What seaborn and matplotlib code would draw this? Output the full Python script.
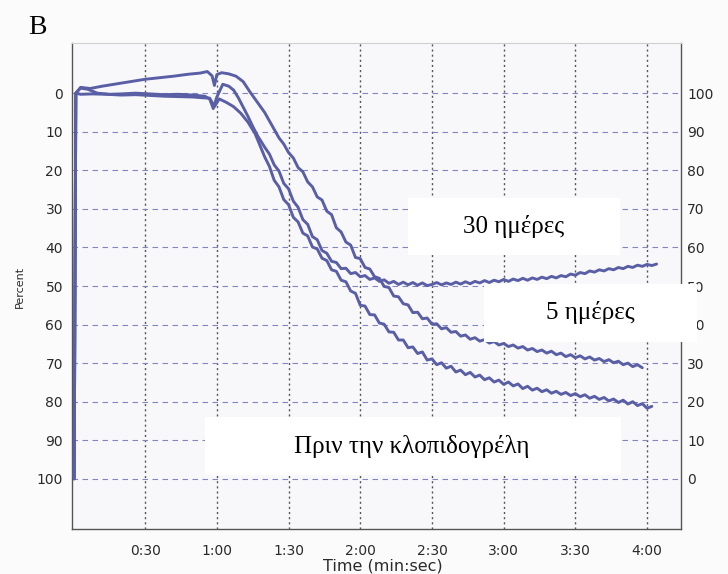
import matplotlib
matplotlib.use("Agg")
import matplotlib.pyplot as plt
import seaborn as sns
import pandas as pd
from matplotlib.patches import Rectangle

# ---------------- data (time in seconds, aggregation in Percent) ----------------
t_5d = [0.3, 1.0, 3, 7, 12, 18, 24, 30, 36, 42, 48, 53, 56, 58, 59, 60, 62, 65, 68, 71,
        74, 77,
        80, 82, 84, 86, 88, 90, 92, 94, 96, 98, 100, 102, 104, 106, 108, 110, 112, 114, 116,
        118, 120, 122, 124, 126, 128, 130, 132, 134, 136, 138, 140, 142, 144, 146, 148, 150,
        152, 154, 156, 158, 160, 162, 164, 166, 168, 170, 172, 174, 176, 178, 180, 182, 184,
        186, 188, 190, 192, 194, 196, 198, 200, 202, 204, 206, 208, 210, 212, 214, 216, 218,
        220, 222, 224, 226, 228, 230, 232, 234, 236, 238]
p_5d = [100, 0, -1.5, -1.2, -1.8, -2.4, -3.0, -3.6, -4.0, -4.4, -4.9, -5.2, -5.6, -4.5, -2.0,
        -4.8, -5.3, -5.0, -4.4, -3.0, -0.2, 2.4,
        5.0, 7.2, 9.4, 11.6, 13.2, 15.4, 16.8, 19.3, 20.4, 23.0, 24.3, 26.9, 27.7, 30.6, 31.5,
        34.9, 36.0, 38.6, 39.4, 42.6, 42.9, 45.2, 45.6, 47.6, 48.0, 50.1, 50.4, 52.6, 52.8,
        54.6, 54.9, 56.9, 56.8, 58.5, 58.3, 59.9, 59.8, 61.1, 60.8, 62.0, 61.8, 63.0, 62.7,
        63.8, 63.4, 64.3, 63.9, 64.8, 64.4, 65.3, 64.9, 65.7, 65.3, 66.1, 65.7, 66.6, 66.2,
        67.0, 66.6, 67.4, 66.9, 67.8, 67.4, 68.3, 67.8, 68.6, 68.1, 68.9, 68.4, 69.2, 68.8,
        69.6, 69.1, 69.9, 69.5, 70.4, 70.0, 70.9, 70.4, 71.2]

t_30d = [0.3, 1.0, 3, 6, 10, 15, 20, 26, 32, 38, 44, 50, 55, 57, 58.5, 60, 62.5, 65, 67, 69,
         71, 73, 75, 77,
         80, 82, 84, 86, 88, 90, 92, 94, 96, 98, 100, 102, 104, 106, 108, 110, 112, 114, 116,
         118, 120, 122, 124, 126, 128, 130, 132, 134, 136, 138, 140, 142, 144, 146, 148, 150,
         152, 154, 156, 158, 160, 162, 164, 166, 168, 170, 172, 174, 176, 178, 180, 182, 184,
         186, 188, 190, 192, 194, 196, 198, 200, 202, 204, 206, 208, 210, 212, 214, 216, 218,
         220, 222, 224, 226, 228, 230, 232, 234, 236, 238, 240, 242, 244]
p_30d = [100, 0, -1.3, -1.0, 0.0, 0.3, 0.2, 0.0, 0.2, 0.4, 0.3, 0.5, 0.8, 1.5, 4.0, 1.0,
         -2.3, -1.8, -0.8, 1.2, 3.6, 6.0, 8.6, 11.0,
         14.0, 15.8, 18.6, 20.2, 23.4, 24.8, 28.0, 29.6, 32.8, 34.0, 37.2, 38.0, 40.8, 41.5,
         43.6, 43.9, 45.5, 45.4, 46.8, 46.5, 47.6, 47.3, 48.3, 47.9, 48.8, 48.4, 49.3, 48.8,
         49.6, 49.0, 49.7, 49.1, 49.8, 49.2, 49.9, 49.6, 49.1, 49.7, 49.2, 49.6, 49.0, 49.5,
         48.9, 49.4, 48.8, 49.2, 48.6, 49.1, 48.5, 48.9, 48.3, 48.8, 48.2, 48.6, 48.0, 48.5,
         47.9, 48.3, 47.7, 48.1, 47.5, 47.9, 47.3, 47.6, 46.9, 47.2, 46.5, 46.8, 46.1, 46.4,
         45.8, 46.1, 45.5, 45.8, 45.2, 45.5, 44.9, 45.2, 44.6, 44.9, 44.4, 44.7, 44.3]

t_pre = [0.3, 1.0, 3, 8, 14, 20, 26, 32, 38, 44, 50, 54, 57, 59, 61, 64, 67, 70, 73, 76, 78,
         80, 82, 84, 86, 88, 90, 92, 94, 96, 98, 100, 102, 104, 106, 108, 110, 112, 114, 116,
         118, 120, 122, 124, 126, 128, 130, 132, 134, 136, 138, 140, 142, 144, 146, 148, 150,
         152, 154, 156, 158, 160, 162, 164, 166, 168, 170, 172, 174, 176, 178, 180, 182, 184,
         186, 188, 190, 192, 194, 196, 198, 200, 202, 204, 206, 208, 210, 212, 214, 216, 218,
         220, 222, 224, 226, 228, 230, 232, 234, 236, 238, 240, 242]
p_pre = [100, 0, 0.3, 0.2, 0.3, 0.5, 0.4, 0.6, 0.8, 0.9, 1.0, 1.2, 1.3, 3.5, 1.5, 2.4, 3.5,
         5.2, 7.5, 10.5, 13.5,
         16.5, 19.0, 22.6, 24.3, 27.6, 28.9, 32.2, 33.4, 36.3, 37.0, 39.9, 40.4, 42.8, 43.4,
         45.8, 46.2, 48.5, 48.9, 51.3, 51.9, 55.0, 55.2, 57.4, 57.5, 59.6, 59.9, 61.9, 62.0,
         64.0, 64.0, 66.0, 65.8, 67.5, 67.1, 69.2, 68.9, 70.4, 69.9, 71.3, 70.8, 72.3, 71.8,
         73.0, 72.4, 73.6, 73.1, 74.3, 73.8, 74.9, 74.4, 75.5, 74.9, 75.9, 75.4, 76.6, 76.0,
         77.0, 76.5, 77.4, 76.9, 77.8, 77.3, 78.1, 77.6, 78.4, 77.9, 78.7, 78.2, 79.1, 78.6,
         79.4, 78.9, 79.8, 79.3, 80.2, 79.6, 80.6, 80.0, 81.0, 80.5, 81.7, 81.2]

curve_names = ["5 ημέρες", "30 ημέρες", "Πριν την κλοπιδογρέλη"]
x_ticks = [30, 60, 90, 120, 150, 180, 210, 240]
x_tick_labels = ["0:30", "1:00", "1:30", "2:00", "2:30", "3:00", "3:30", "4:00"]
y_ticks = [0, 10, 20, 30, 40, 50, 60, 70, 80, 90, 100]

# ---------------- style ----------------
sns.set_theme(style="white")
plt.rcParams["font.family"] = ["DejaVu Sans"]

W, H = 728, 574
LINE = "#5a5fa5"
TXT = "#2a2a2a"

fig = plt.figure(figsize=(W / 100, H / 100), dpi=100, facecolor="#fbfbfb")
ax = fig.add_axes([72 / W, 1 - 529 / H, (681 - 72) / W, (529 - 43) / H])
ax.set_facecolor("#f8f8fb")

df = pd.concat([
    pd.DataFrame({"t": t_5d, "p": p_5d, "curve": curve_names[0]}),
    pd.DataFrame({"t": t_30d, "p": p_30d, "curve": curve_names[1]}),
    pd.DataFrame({"t": t_pre, "p": p_pre, "curve": curve_names[2]}),
], ignore_index=True)

for name in curve_names:
    sub = df[df["curve"] == name]
    sns.lineplot(data=sub, x="t", y="p", sort=False, estimator=None, color=LINE,
                 linewidth=2.1, ax=ax, zorder=3)

ax.set_xlim(-0.6, 254.2)
ax.set_ylim(113, -13)
ax.set_xticks(x_ticks)
ax.set_xticklabels(x_tick_labels)
ax.set_yticks(y_ticks)
ax.tick_params(axis="both", length=0, labelsize=10, labelcolor=TXT)
ax.tick_params(axis="x", pad=11)
ax.tick_params(axis="y", pad=6.5)

ax.yaxis.grid(True, linestyle=(0, (5, 4)), color="#8585bd", linewidth=0.8)
ax.xaxis.grid(True, linestyle=(0, (1.5, 2.2)), color="#555555", linewidth=1.0)
ax.set_axisbelow(True)

for s in ["left", "bottom", "right"]:
    ax.spines[s].set_color("#555555")
    ax.spines[s].set_linewidth(1.0)
ax.spines["top"].set_color("#d0d0d0")
ax.spines["top"].set_linewidth(0.8)

ax.set_xlabel("Time (min:sec)", fontsize=11.5, color=TXT)
ax.xaxis.label.set_va("center")
ax.xaxis.set_label_coords((383 - 72) / 609, (529 - 566) / 486)
ax.set_ylabel("Percent", fontsize=8, color=TXT)
ax.yaxis.label.set_va("center")
ax.yaxis.set_label_coords((20 - 72) / 609, (529 - 287) / 486)

ax2 = ax.twinx()
ax2.set_ylim(-13, 113)
ax2.set_yticks(y_ticks)
ax2.tick_params(axis="y", length=0, labelsize=10, labelcolor=TXT, pad=4.5)
ax2.grid(False)
ax2.patch.set_visible(False)
for s in ax2.spines.values():
    s.set_visible(False)

# panel letter
fig.text(37 / W, 1 - 27 / H, "B", fontsize=20, family="Liberation Serif",
         ha="center", va="center", color="black")

# label boxes (x0, y0, x1, y1 in pixels) and text centres
boxes = [
    ((408, 198, 620, 255), (514, 226), curve_names[1]),
    ((484, 284, 697, 342), (590, 312), curve_names[0]),
    ((205, 417, 621, 475), (412, 446), curve_names[2]),
]
for (x0, y0, x1, y1), (cx, cy), lab in boxes:
    fig.add_artist(Rectangle((x0 / W, 1 - y1 / H), (x1 - x0) / W, (y1 - y0) / H,
                             transform=fig.transFigure, facecolor="white",
                             edgecolor="none", zorder=5))
    fig.text(cx / W, 1 - cy / H, lab, fontsize=18, family="Liberation Serif",
             ha="center", va="center", color="black", zorder=6)

fig.savefig("out.png", dpi=100, facecolor=fig.get_facecolor())
